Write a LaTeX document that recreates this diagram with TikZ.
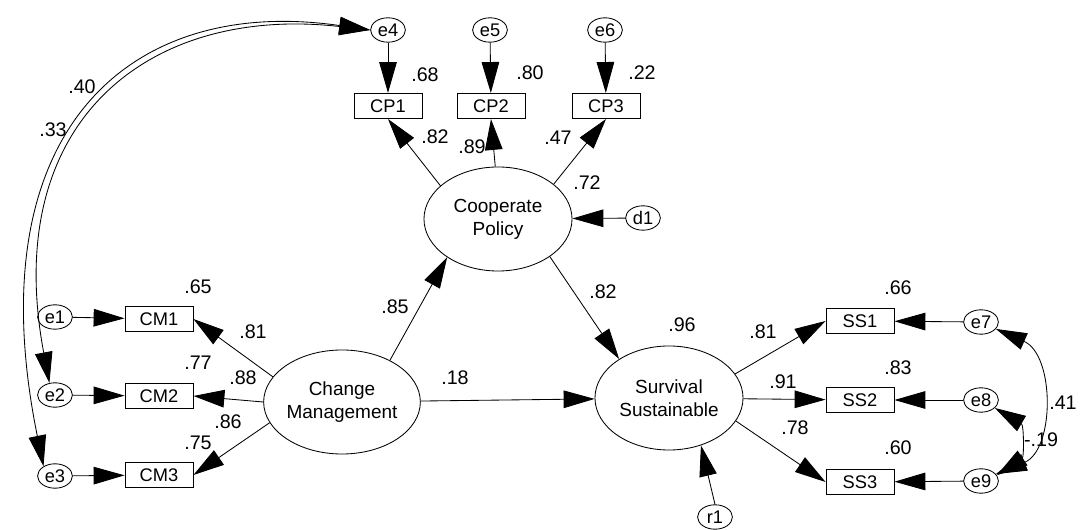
\documentclass[tikz,border=0pt]{standalone}
\usepackage{fontspec}
\setmainfont{Liberation Sans}
\usetikzlibrary{arrows.meta,shapes.geometric}

\begin{document}
\begin{tikzpicture}[x=0.025cm,y=-0.025cm,line width=0.6pt,
	latent/.style={ellipse,draw,minimum width=3.7cm,minimum height=2.6cm,inner sep=0pt,align=center,font=\fontsize{13.5}{16.5}\selectfont},
	obs/.style={rectangle,draw,minimum width=1.7cm,minimum height=0.63cm,inner sep=0pt,font=\fontsize{13}{15}\selectfont},
	err/.style={ellipse,draw,minimum width=0.87cm,minimum height=0.61cm,inner sep=0pt,font=\fontsize{13}{15}\selectfont},
	coef/.style={inner sep=0pt,font=\fontsize{14}{16}\selectfont},
	arr/.style={-{Triangle[length=22pt,width=12.5pt]}},
	twoarr/.style={{Triangle[length=22pt,width=12.5pt]}-{Triangle[length=22pt,width=12.5pt]}}]

		\useasboundingbox (0,0) rectangle (1080,530);

		% latent variables
		\draw (342,402) node (CM) [latent] {Change\\Management};
		\draw (498,219) node (CP) [latent] {Cooperate\\Policy};
		\draw (669,398) node (SS) [latent] {Survival\\Sustainable};

		% observed variables
		\draw (159,319) node (CM1) [obs] {CM1};
		\draw (159,396) node (CM2) [obs] {CM2};
		\draw (159,475) node (CM3) [obs] {CM3};
		\draw (388,106) node (CP1) [obs] {CP1};
		\draw (491,106) node (CP2) [obs] {CP2};
		\draw (606,106) node (CP3) [obs] {CP3};
		\draw (860,321) node (SS1) [obs] {SS1};
		\draw (860,400) node (SS2) [obs] {SS2};
		\draw (860,482) node (SS3) [obs] {SS3};

		% error terms
		\draw (55,317) node (e1) [err] {e1};
		\draw (55,395) node (e2) [err] {e2};
		\draw (55,476) node (e3) [err] {e3};
		\draw (388,30) node (e4) [err] {e4};
		\draw (490,30) node (e5) [err] {e5};
		\draw (605,30) node (e6) [err] {e6};
		\draw (981,322) node (e7) [err] {e7};
		\draw (981,400) node (e8) [err] {e8};
		\draw (981,481) node (e9) [err] {e9};
		\draw (643,218) node (d1) [err] {d1};
		\draw (715,517) node (r1) [err] {r1};

		% measurement paths
		\draw[arr] (e1) -- (CM1);
		\draw[arr] (e2) -- (CM2);
		\draw[arr] (e3) -- (CM3);
		\draw[arr] (CM.160) -- (CM1.east);
		\draw[arr] (CM.180) -- (CM2.east);
		\draw[arr] (CM.196) -- (CM3.east);

		\draw[arr] (e4) -- (CP1);
		\draw[arr] (e5) -- (CP2);
		\draw[arr] (e6) -- (CP3);
		\draw[arr] (CP.150) -- (CP1.south);
		\draw[arr] (CP.93) -- (CP2.south);
		\draw[arr] (CP.32) -- (CP3.south);
		\draw[arr] (d1) -- (CP);

		\draw[arr] (e7) -- (SS1);
		\draw[arr] (e8) -- (SS2);
		\draw[arr] (e9) -- (SS3);
		\draw[arr] (SS.20) -- (SS1.west);
		\draw[arr] (SS) -- (SS2);
		\draw[arr] (SS.-19) -- (SS3.west);
		\draw[arr] (r1.north) -- (SS.-56);

		% structural paths
		\draw[arr] (CM.41) -- (CP.217);
		\draw[arr] (CP.-36) -- (SS.142);
		\draw[arr] (CM) -- (SS);

		% covariances
		\draw[twoarr] (e4.west) .. controls (150,5) and (0,120) .. (e2.115);
		\draw[twoarr] (e4.west) .. controls (130,-5) and (-25,130) .. (e3.140);
		\draw[twoarr] (e7.-25) .. controls (1055,355) and (1055,450) .. (e9.25);
		\draw[twoarr] (e8.-30) .. controls (1024,425) and (1024,457) .. (e9.20);

		% coefficients
		\draw (425,75) node (rCP1) [coef] {.68};
		\draw (530,73) node (rCP2) [coef] {.80};
		\draw (642,73) node (rCP3) [coef] {.22};
		\draw (435,137) node (wCP1) [coef] {.82};
		\draw (472,147) node (wCP2) [coef] {.89};
		\draw (558,138) node (wCP3) [coef] {.47};
		\draw (587,183) node (rCP) [coef] {.72};

		\draw (82,87) node (c42) [coef] {.40};
		\draw (53,130) node (c43) [coef] {.33};

		\draw (198,287) node (rCM1) [coef] {.65};
		\draw (253,332) node (wCM1) [coef] {.81};
		\draw (198,363) node (rCM2) [coef] {.77};
		\draw (243,378) node (wCM2) [coef] {.88};
		\draw (228,422) node (wCM3) [coef] {.86};
		\draw (198,443) node (rCM3) [coef] {.75};

		\draw (395,307) node (bCMCP) [coef] {.85};
		\draw (455,378) node (bCMSS) [coef] {.18};
		\draw (603,292) node (bCPSS) [coef] {.82};
		\draw (682,325) node (rSS) [coef] {.96};

		\draw (763,332) node (wSS1) [coef] {.81};
		\draw (783,382) node (wSS2) [coef] {.91};
		\draw (795,428) node (wSS3) [coef] {.78};
		\draw (898,288) node (rSS1) [coef] {.66};
		\draw (898,368) node (rSS2) [coef] {.83};
		\draw (898,448) node (rSS3) [coef] {.60};

		\draw (1063,403) node (c79) [coef] {.41};
		\draw (1041,440) node (c89) [coef] {-.19};

\end{tikzpicture}
\end{document}
